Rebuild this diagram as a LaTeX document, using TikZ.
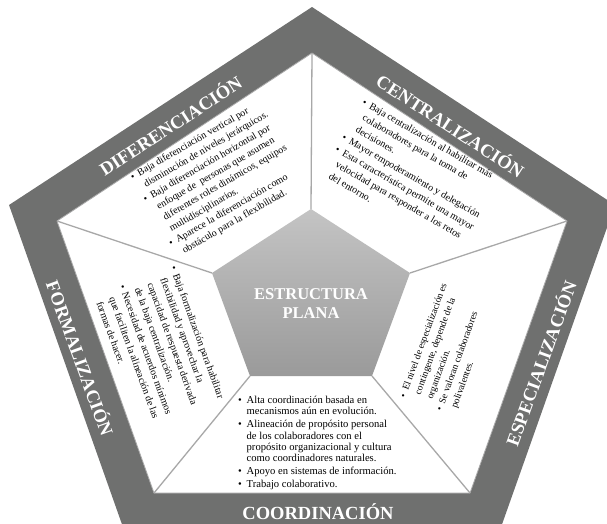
\documentclass[tikz,border=0pt]{standalone}
\usepackage{fontspec}
\setmainfont{Liberation Serif}
\usepackage{xcolor}
\usepackage{tikz}
\definecolor{bandgray}{HTML}{6F706F}
\definecolor{rulegray}{HTML}{A8A8A8}
\definecolor{hubtop}{HTML}{C4C4C4}
\definecolor{hubbot}{HTML}{9A9A9A}
\newcommand{\bl}{\makebox[0.8em][l]{\textbullet}}
\newcommand{\hg}{\hspace*{0.8em}}

\begin{document}
\begin{tikzpicture}[x=1pt, y=-1pt,
  band/.style={text=white, font=\fontsize{18.5}{20}\selectfont\bfseries, inner sep=0pt},
  txt/.style={align=left, inner sep=0pt, anchor=north west, font=\fontsize{10}{13.3}\selectfont},
  rule/.style={draw=rulegray, line width=1.3pt}]
\useasboundingbox (0,0) rectangle (607,523);
\clip (0,0) rectangle (607,523);
% outer band, inner field, hub corners
\coordinate (o1) at (312,7);   \coordinate (o2) at (9,205);   \coordinate (o3) at (124,530); \coordinate (o4) at (500,530); \coordinate (o5) at (615,205);
\coordinate (p1) at (312,53);  \coordinate (p2) at (57,221);  \coordinate (p3) at (154,493); \coordinate (p4) at (470,493); \coordinate (p5) at (567,221);
\coordinate (c1) at (311,209); \coordinate (c2) at (212,273); \coordinate (c3) at (250,376); \coordinate (c4) at (372,376); \coordinate (c5) at (410,273);
\fill[bandgray] (o1) -- (o2) -- (o3) -- (o4) -- (o5) -- cycle;
\filldraw[fill=white, draw=rulegray, line width=0.8pt] (p1) -- (p2) -- (p3) -- (p4) -- (p5) -- cycle;
\draw[rule] (c1) -- (p1); \draw[rule] (c2) -- (p2); \draw[rule] (c3) -- (p3); \draw[rule] (c4) -- (p4); \draw[rule] (c5) -- (p5);
\path[top color=hubtop, bottom color=hubbot] (c1) -- (c2) -- (c3) -- (c4) -- (c5) -- cycle;
\node[text=white, font=\fontsize{16.5}{19}\selectfont\bfseries, align=center] (hub) at (311,304) {ESTRUCTURA\\PLANA};
% band titles
\node[band, rotate=33]  (ldif) at (170,125) {DIFERENCIACIÓN};
\node[band, rotate=-33] (lcen) at (451,125) {CENTRALIZACIÓN};
\node[band, rotate=-70] (lfor) at (81,358)  {FORMALIZACIÓN};
\node[band, rotate=70]  (lesp) at (540,363) {ESPECIALIZACIÓN};
\node[band, anchor=base] (lcoo) at (318,519) {COORDINACIÓN};
% bullet texts
\node[txt, rotate=30, font=\fontsize{10}{12.8}\selectfont] (tdif) at (129,174) {\bl Baja diferenciación vertical por\\ \hg disminución de niveles jerárquicos.\\
  \bl Baja diferenciación horizontal por\\ \hg enfoque de \ personas que asumen\\ \hg diferentes roles dinámicos, equipos\\ \hg multidisciplinarios.\\
  \bl Aparece la diferenciación como\\ \hg obstáculo para la flexibilidad.};
\node[txt, rotate=-30, font=\fontsize{10}{13.5}\selectfont] (tcen) at (365,98) {\bl Baja centralización al habilitar más\\ \hg colaboradores para la toma de\\ \hg decisiones.\\
  \bl Mayor empoderamiento y delegación\\ \bl Esta característica permite una mayor\\ \hg velocidad para responder a los retos\\ \hg del entorno.};
\node[txt, rotate=-70, font=\fontsize{10}{13.6}\selectfont] (tfor) at (177,265) {\bl Baja formalización para habilitar\\ \hg flexibilidad y aprovechar la\\ \hg capacidad de respuesta derivada\\ \hg de la baja centralización.\\
  \bl Necesidad de acuerdos mínimos\\ \hg que faciliten la alineación de las\\ \hg formas de hacer.};
\node[txt, rotate=70, font=\fontsize{9.6}{12.9}\selectfont] (tesp) at (399,396) {\bl El nivel de especialización es\\ \hg contingente, depende de la\\ \hg organización.\\
  \bl Se valoran colaboradores\\ \hg polivalentes.};
\node[txt, font=\fontsize{10.6}{11.2}\selectfont] (tcoo) at (238,396) {\bl Alta coordinación basada en\\ \hg mecanismos aún en evolución.\\[2pt]
  \bl Alineación de propósito personal\\ \hg de los colaboradores con el\\ \hg propósito organizacional y cultura\\ \hg como coordinadores naturales.\\[2pt]
  \bl Apoyo en sistemas de información.\\[2pt] \bl Trabajo colaborativo.};
\end{tikzpicture}
\end{document}
